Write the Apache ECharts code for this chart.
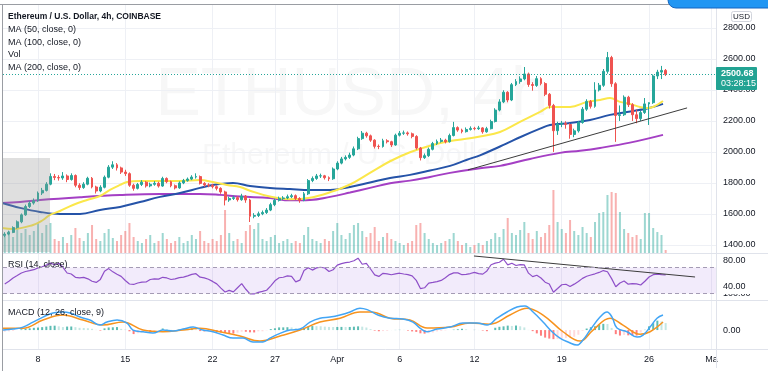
<!DOCTYPE html>
<html><head><meta charset="utf-8">
<script src="https://cdn.jsdelivr.net/npm/echarts@6/dist/echarts.min.js"></script>
<style>html,body{margin:0;padding:0;background:#fff}#c{width:768px;height:371px}</style>
</head><body><div id="c"></div>
<script>
// ---------- DATA (x = day of March; 32 = Apr 1) ----------
const candleStartDay = 5 + 1/3;   // first 8h candle
const candleStepDays = 1/3;
const firstOpen = 1462;
const closes = [1470,1481,1512,1549,1594,1648,1670,1685,1735,1752,
1792,1842,1835,1832,1845,1822,1848,1785,1770,1792,
1830,1774,1748,1772,1837,1902,1917,1897,1870,1860,
1785,1765,1790,1805,1781,1791,1798,1780,1829,1808,
1782,1768,1800,1815,1825,1838,1841,1797,1787,1785,
1776,1765,1742,1690,1700,1705,1692,1715,1690,1585,
1590,1601,1609,1625,1660,1688,1700,1703,1711,1718,
1700,1687,1730,1815,1829,1845,1846,1834,1827,1890,
1928,1955,1965,1980,2020,2086,2121,2104,2076,2036,
2035,2072,2066,2045,2108,2121,2123,2117,2100,2025,
1963,1976,2017,2054,2068,2076,2066,2106,2157,2141,
2131,2145,2152,2150,2155,2130,2150,2196,2270,2323,
2385,2335,2434,2454,2471,2503,2435,2429,2473,2441,
2372,2300,2137,2180,2184,2177,2113,2136,2190,2276,
2326,2294,2400,2430,2520,2609,2440,2235,2240,2353,
2305,2240,2215,2254,2310,2318,2490,2515,2526,2500.68];
const highs = [1482,1492,1520,1558,1603,1660,1682,1700,1745,1768,
1805,1862,1858,1850,1870,1855,1862,1855,1798,1805,
1840,1838,1782,1785,1848,1915,1940,1928,1905,1885,
1868,1795,1800,1818,1812,1802,1812,1808,1840,1836,
1815,1790,1810,1826,1835,1850,1862,1848,1805,1798,
1795,1785,1772,1750,1712,1718,1715,1730,1722,1698,
1605,1615,1622,1638,1672,1698,1712,1715,1725,1730,
1726,1708,1742,1825,1842,1858,1860,1852,1842,1900,
1940,1968,1978,1995,2035,2098,2135,2130,2112,2082,
2048,2085,2082,2072,2118,2135,2138,2132,2125,2108,
2032,1990,2028,2065,2080,2090,2085,2118,2194,2165,
2150,2158,2165,2162,2168,2160,2162,2208,2282,2340,
2398,2392,2445,2470,2488,2548,2512,2450,2490,2482,
2450,2380,2310,2195,2200,2198,2185,2150,2200,2290,
2340,2335,2450,2445,2535,2645,2620,2450,2300,2365,
2362,2315,2275,2265,2348,2320,2500,2530,2555,2535];
const lows = [1450,1462,1476,1505,1540,1588,1638,1660,1678,1722,
1745,1785,1818,1815,1820,1805,1815,1772,1755,1762,
1785,1765,1732,1740,1765,1830,1890,1880,1858,1845,
1775,1750,1758,1780,1770,1772,1782,1770,1775,1798,
1772,1758,1762,1792,1808,1818,1828,1790,1775,1772,
1765,1752,1730,1655,1678,1690,1680,1685,1672,1548,
1572,1580,1592,1600,1618,1650,1680,1690,1695,1702,
1690,1672,1682,1722,1805,1820,1832,1822,1812,1820,
1882,1920,1945,1955,1972,2012,2078,2092,2065,2022,
2018,2028,2055,2032,2040,2100,2110,2105,2088,2015,
1945,1955,1968,2010,2045,2060,2055,2060,2100,2130,
2120,2125,2138,2140,2142,2118,2124,2145,2190,2262,
2315,2320,2328,2425,2440,2462,2420,2395,2420,2430,
2360,2280,2000,2110,2160,2150,2085,2095,2125,2182,
2265,2280,2285,2390,2420,2505,2420,2065,2200,2232,
2290,2200,2185,2200,2245,2174,2310,2470,2470,2490];
const volumes = [18,22,16,25,20,24,18,22,30,20,
28,30,14,12,16,10,18,25,15,12,
20,28,14,12,20,24,15,12,18,22,
30,16,12,10,14,18,10,12,20,14,
10,12,16,10,12,18,14,22,12,10,
14,12,18,43,20,12,14,10,22,28,
24,30,14,12,16,18,10,12,14,10,
12,10,18,26,14,12,10,14,12,22,
30,18,14,20,28,30,22,16,20,26,
12,16,20,14,12,10,8,10,12,28,
30,20,14,10,8,10,12,14,20,12,
8,10,6,8,10,8,12,14,20,16,
24,35,20,18,23,31,20,14,22,16,
20,28,63,31,24,20,33,22,18,26,
20,16,31,40,41,58,61,60,41,24,
20,16,18,14,40,40,25,21,18,3];
const ma50 = [[5.11,1510],[6.0,1503],[7.6,1529],[8.4,1561],[8.96,1594],[9.76,1619],[10.8,1658],[11.93,1690],[12.97,1716],[13.77,1755],[14.58,1787],[15.14,1806],[16.18,1813],[17.78,1813],[19.39,1813],[20.99,1819],[22.03,1806],[23.16,1787],[24.2,1774],[25.0,1750],[26.6,1712],[28.21,1695],[29.81,1705],[31.42,1740],[33.02,1790],[34.62,1865],[36.23,1940],[37.83,1998],[39.44,2040],[41.04,2070],[42.64,2088],[43.44,2100],[45.05,2129],[46.65,2194],[48.26,2258],[49.06,2290],[50.67,2290],[52.03,2323],[53.07,2335],[53.87,2348],[54.67,2323],[55.47,2310],[56.28,2290],[56.84,2284],[57.32,2290],[58.12,2329]];
const ma100 = [[5.11,1671],[6.56,1639],[8.16,1613],[9.76,1600],[11.37,1600],[12.97,1626],[14.58,1645],[16.18,1677],[17.78,1710],[19.39,1735],[20.99,1768],[22.03,1787],[23.64,1800],[25.0,1781],[26.6,1768],[28.21,1761],[29.81,1755],[31.42,1755],[33.02,1774],[34.62,1803],[36.23,1832],[37.83,1852],[39.44,1880],[41.04,1910],[42.4,1950],[43.44,1978],[45.05,2035],[45.85,2065],[46.65,2095],[48.26,2150],[49.06,2174],[50.67,2187],[52.27,2206],[53.87,2239],[55.23,2258],[56.84,2280],[58.12,2310]];
const ma200 = [[5.11,1671],[6.56,1677],[8.16,1690],[11.37,1708],[14.58,1722],[17.78,1729],[20.99,1729],[22.59,1723],[24.2,1712],[26.6,1703],[28.21,1688],[29.81,1690],[31.42,1710],[33.02,1738],[34.62,1768],[36.23,1798],[37.83,1815],[39.44,1839],[41.04,1865],[43.44,1895],[45.05,1910],[47.45,1955],[49.86,1994],[51.47,2008],[53.07,2026],[55.47,2060],[58.12,2110]];
const priceTrend = [[42.48,1884],[60.05,2284]];
const rsi = [44.6,48.8,53.9,57.7,61.6,63.8,65.1,66.6,69.4,71.1,
73.6,76.7,74.2,76.5,70.3,61.5,60,54.9,53.9,54.7,
52.6,48.9,47,51.7,64.2,68.3,63.3,59.5,56.4,50,
44.6,43.9,46.2,47.6,47.7,51.5,52.6,52.1,54.9,53.9,
51.5,52.6,54.4,55.2,57.2,59.5,60.5,55.1,54,51.9,
48.6,44.8,38.2,32.4,34.8,32.5,38.8,45.1,36.5,29.4,
29.3,31.7,33.2,35,41.8,49.6,54.2,55,57,56.3,
47.9,50.5,65.3,69.7,66,69.4,70.4,69.2,63.8,66.5,
73.6,76,77.6,78.4,80.4,84.3,75,76.3,67.7,58.6,
56.3,61,60.2,58.8,60.3,61.2,60,59.1,57.1,50.2,
37.6,38.8,46,47,48.3,50.1,54.3,59.1,61.7,61.7,
58.9,59.3,60.7,62.5,60.5,59.8,64.7,74.2,76.7,78.1,
82.7,74,76.5,73.1,74.4,73.9,61.3,55.9,58,53.9,
47.4,44.5,32,37.7,43.5,44.2,40.7,44.4,48.4,53.3,
56.5,58.5,60.3,62.4,65.3,63.5,52.9,40.3,46.2,49.3,
44.3,45.1,44.9,43.1,48.8,55.4,58.9,59.9,59.1,58.5];
const rsiTrend = [[42.96,87.7],[60.69,55.4]];
const macdLine = [[5.19,0],[6.0,2.7],[6.8,8],[7.6,21.6],[8.4,35],[9.2,46],[10.0,48.6],[10.57,46],[11.37,35],[12.17,27],[12.97,13.5],[13.53,21.6],[14.34,27],[15.14,19],[15.62,0],[16.42,-4.5],[17.22,-8],[18.02,0],[18.83,-2.7],[19.63,2.7],[20.43,8],[21.23,0],[22.03,-4.5],[22.84,-13.5],[23.64,-21.6],[24.44,-21.6],[25.24,-32],[26.04,-32],[26.6,-21.6],[27.41,-9],[28.21,0],[29.01,2.7],[29.81,21.6],[30.61,32],[31.42,35],[32.22,40.5],[33.02,48.6],[33.82,59],[34.4,55],[35.3,40],[36.23,32],[37.27,29.7],[38.07,21.6],[38.63,5.4],[39.2,-4.5],[40.0,2.7],[41.04,8],[42.08,19],[43.2,19],[44.01,13.5],[44.81,32],[45.61,48.6],[46.41,62],[47.05,65],[47.7,48.6],[48.5,21.6],[49.22,-4.5],[49.86,-21.6],[50.5,-32],[51.22,-40.5],[51.7,-27],[52.27,0],[53.07,35],[53.63,48.6],[54.03,35],[54.43,5.4],[55.23,-4.5],[56.04,-19],[56.52,-13.5],[57.08,8],[57.64,32],[58.12,40.5]];
const signalLine = [[5.19,5],[6.8,5],[8.4,27],[10.0,40.5],[11.61,27],[13.21,13.5],[14.82,21.6],[16.42,0],[18.02,-4.5],[19.63,0],[20.99,5],[22.59,-4.5],[24.2,-16],[25.8,-29.7],[27.41,-16],[29.01,0],[30.61,21.6],[32.22,32],[33.82,48.6],[34.62,48.6],[35.19,46],[36.23,32],[37.83,27],[39.2,5.4],[41.04,8],[42.64,19],[44.24,16],[45.85,40.5],[47.21,59],[48.5,40.5],[50.1,-4.5],[51.47,-29.7],[52.51,0],[53.87,32],[54.91,13.5],[56.28,-11],[57.08,-4.5],[58.12,21.6]];
const macdHist = [-4.5,-3.4,-2.3,0,2,3.6,4.7,6,6.8,7.9,
9.4,11.4,11.8,10.1,8.1,9.4,9.6,7.9,6,5.5,
5,3.4,0.5,-1.4,4.6,7,7.5,8.1,3.2,1.4,
-3.3,-10.8,-8.4,-6,-4.9,-5.4,-4.4,0,4.3,2.6,
0.5,0.2,1.5,2.9,3.7,4.7,1.8,-2.7,-3.6,-3.5,
-3.3,-4.5,-6.5,-7.7,-8.7,-9.4,-7,-4.4,-4.6,-6.1,
-6.4,-3.4,-3.3,-0.7,2.6,4.8,7.2,7.3,7.7,7.1,
5,2.7,5.8,9.4,10.8,10.5,10.2,9.2,8.4,8.2,
8.4,8.5,8.4,8.4,9.1,10,9.2,6.9,2.5,-1.5,
-3.2,-2.7,-2.1,0.1,0.4,0.7,0.5,-1.5,-3.6,-4.9,
-8.7,-9.6,-8.4,-6.4,-3.6,-2.2,-0.9,0,1.1,2.2,
3.5,1.9,0,0.6,0.3,-1.3,-3,0,6.2,8.8,
10,12,11.1,12.2,10.2,7.2,0.4,-2.9,-8.9,-15.2,
-20.3,-22.9,-24.4,-24.2,-22.4,-21.6,-20.3,-18.1,-12.6,-2,
4.1,7.8,10.2,14,16.8,16.3,5.8,-11,-14.8,-13.2,
-14.2,-14.5,-14.8,-6.6,0.7,10.1,18.5,25.4,23.3,18.9];
const xTickDays = [8,15,22,27,32,37,43,50,57,62];
const xTickLabels = ['8','15','22','27','Apr','6','12','19','26','Ma'];
const priceTicks = [1400,1600,1800,2000,2200,2400,2600,2800];
const rsiTicks = [40,80];
const rsiLevels = [30,70];
const macdTicks = [0];
const lastPrice = 2500.68;
const countdown = '03:28:15';
const titleText = 'Ethereum / U.S. Dollar, 4h, COINBASE';
const legendTexts = ['MA (50, close, 0)','MA (100, close, 0)','Vol','MA (200, close, 0)'];

// ---------- BUILD ----------
const UP = '#26a69a', DOWN = '#ef5350';
const FONT = '"Liberation Sans", Arial, sans-serif';
const xMin = 5.193, xMax = 62.37;
const dayOf = i => candleStartDay + i * candleStepDays;
const candles = closes.map((c, i) => [dayOf(i), i ? closes[i-1] : firstOpen, c, lows[i], highs[i]]);
const volData = volumes.map((v, i) => {
  const o = candles[i][1], c = candles[i][2];
  return {value: [dayOf(i), v], itemStyle: {color: c >= o ? 'rgba(38,166,154,0.45)' : 'rgba(239,83,80,0.45)'}};
});
const rsiData = rsi.map((v, i) => [dayOf(i), v]);
const histData = macdHist.map((h, i) => {
  const p = i ? macdHist[i-1] : h;
  let col = h >= 0 ? (h >= p ? '#26a69a' : '#b2dfdb') : (h < p ? '#ff5252' : '#ffcdd2');
  return {value: [dayOf(i), h], itemStyle: {color: col, opacity: 0.75}};
});
const labelMap = {};
xTickDays.forEach((d, k) => labelMap[d] = xTickLabels[k]);

function xAx(gi, showLabel) {
  return {type: 'value', gridIndex: gi, min: xMin, max: xMax,
    axisLine: {show: false}, axisTick: {show: false, customValues: xTickDays},
    axisLabel: {show: showLabel, customValues: xTickDays, formatter: v => labelMap[Math.round(v)] || '',
      color: '#131722', fontSize: 9, fontFamily: FONT, margin: 6},
    splitLine: {show: gi !== 1, lineStyle: {color: '#eef0f5', width: 1}}};
}
const yLab = {color: '#131722', fontSize: 9, fontFamily: FONT, margin: 7, formatter: v => v.toFixed(2)};

const option = {
  animation: false,
  backgroundColor: '#ffffff',
  grid: [
    {left: 3, right: 52, top: 5, height: 248},
    {left: 3, right: 52, top: 190, height: 63},
    {left: 3, right: 52, top: 253, height: 47},
    {left: 3, right: 52, top: 300, height: 49}
  ],
  xAxis: [xAx(0, false), xAx(1, false), xAx(2, false), xAx(3, true)],
  yAxis: [
    {type: 'value', gridIndex: 0, position: 'right', min: 1348, max: 2948,
      axisLine: {show: false}, axisTick: {show: false, customValues: priceTicks},
      axisLabel: Object.assign({customValues: priceTicks}, yLab),
      splitLine: {lineStyle: {color: '#eef0f5'}}},
    {type: 'value', gridIndex: 1, min: 0, max: 63, show: false, splitLine: {show: false}},
    {type: 'value', gridIndex: 2, position: 'right', min: 20, max: 92.3, z: 5,
      axisLine: {show: false}, axisTick: {show: false, customValues: rsiTicks},
      axisLabel: Object.assign({customValues: rsiTicks}, yLab), splitLine: {show: false}},
    {type: 'value', gridIndex: 3, position: 'right', min: -51, max: 81,
      axisLine: {show: false}, axisTick: {show: false, customValues: macdTicks},
      axisLabel: Object.assign({customValues: macdTicks}, yLab), splitLine: {show: false}}
  ],
  series: [
    {type: 'bar', xAxisIndex: 1, yAxisIndex: 1, data: volData, barWidth: 2, z: 1, silent: true},
    {type: 'candlestick', xAxisIndex: 0, yAxisIndex: 0, data: candles, barWidth: 2.4, z: 4,
      itemStyle: {color: UP, color0: DOWN, borderColor: UP, borderColor0: DOWN, borderWidth: 1},
      markLine: {silent: true, symbol: ['none','none'], label: {show: false},
        lineStyle: {color: UP, type: [1, 2], width: 1}, data: [{yAxis: lastPrice}]}},
    {type: 'line', xAxisIndex: 0, yAxisIndex: 0, data: ma200, smooth: 0.4, showSymbol: false, z: 3,
      lineStyle: {color: '#a43fc4', width: 2}},
    {type: 'line', xAxisIndex: 0, yAxisIndex: 0, data: ma100, smooth: 0.4, showSymbol: false, z: 3,
      lineStyle: {color: '#2553a8', width: 2}},
    {type: 'line', xAxisIndex: 0, yAxisIndex: 0, data: ma50, smooth: 0.4, showSymbol: false, z: 3,
      lineStyle: {color: '#fbe74a', width: 2}},
    {type: 'line', xAxisIndex: 0, yAxisIndex: 0, data: priceTrend, showSymbol: false, z: 5,
      lineStyle: {color: '#3c3c3c', width: 1}},
    {type: 'line', xAxisIndex: 2, yAxisIndex: 2, data: rsiData, showSymbol: false, z: 3,
      lineStyle: {color: '#8e4fc8', width: 1.2},
      markArea: {silent: true, itemStyle: {color: 'rgba(149,90,220,0.12)'}, data: [[{yAxis: rsiLevels[0]}, {yAxis: rsiLevels[1]}]]},
      markLine: {silent: true, symbol: ['none','none'], label: {show: false},
        lineStyle: {color: '#a49bb4', type: [4, 3], width: 1}, data: [{yAxis: rsiLevels[0]}, {yAxis: rsiLevels[1]}]}},
    {type: 'line', xAxisIndex: 2, yAxisIndex: 2, data: rsiTrend, showSymbol: false, z: 4,
      lineStyle: {color: '#3c3c3c', width: 1}},
    {type: 'bar', xAxisIndex: 3, yAxisIndex: 3, data: histData, barWidth: 2, z: 2},
    {type: 'line', xAxisIndex: 3, yAxisIndex: 3, data: signalLine, smooth: 0.4, showSymbol: false, z: 3,
      lineStyle: {color: '#f7931e', width: 1.5}},
    {type: 'line', xAxisIndex: 3, yAxisIndex: 3, data: macdLine, smooth: 0.4, showSymbol: false, z: 4,
      lineStyle: {color: '#42a5f5', width: 1.5}}
  ],
  graphic: [
    // watermark
    {type: 'text', x: 352, y: 96, z: -5, silent: true, style: {text: 'ETHUSD, 4h', fill: 'rgba(19,23,34,0.035)',
      font: '68px ' + FONT, textAlign: 'center', textVerticalAlign: 'middle', align: 'center', verticalAlign: 'middle'}},
    {type: 'text', x: 352, y: 156, z: -5, silent: true, style: {text: 'Ethereum / U.S. Dollar', fill: 'rgba(19,23,34,0.035)',
      font: '30px ' + FONT, textAlign: 'center', textVerticalAlign: 'middle', align: 'center', verticalAlign: 'middle'}},
    // gray selection box
    {type: 'rect', z: 20, silent: true, shape: {x: 3, y: 158, width: 47, height: 94}, style: {fill: 'rgba(150,150,150,0.3)'}},
    // legend texts
    {type: 'text', x: 8, y: 17, z: 30, style: {text: titleText, fill: '#131722', font: 'bold 8.5px ' + FONT, textVerticalAlign: 'middle', verticalAlign: 'middle'}},
    {type: 'text', x: 8, y: 30, z: 30, style: {text: legendTexts[0], fill: '#131722', font: '9px ' + FONT, textVerticalAlign: 'middle', verticalAlign: 'middle'}},
    {type: 'text', x: 8, y: 42.5, z: 30, style: {text: legendTexts[1], fill: '#131722', font: '9px ' + FONT, textVerticalAlign: 'middle', verticalAlign: 'middle'}},
    {type: 'text', x: 8, y: 55, z: 30, style: {text: legendTexts[2], fill: '#131722', font: '9px ' + FONT, textVerticalAlign: 'middle', verticalAlign: 'middle'}},
    {type: 'text', x: 8, y: 67.5, z: 30, style: {text: legendTexts[3], fill: '#131722', font: '9px ' + FONT, textVerticalAlign: 'middle', verticalAlign: 'middle'}},
    {type: 'text', x: 8, y: 265, z: 30, style: {text: 'RSI (14, close)', fill: '#131722', font: '9px ' + FONT, textVerticalAlign: 'middle', verticalAlign: 'middle'}},
    {type: 'text', x: 8, y: 313, z: 30, style: {text: 'MACD (12, 26, close, 9)', fill: '#131722', font: '9px ' + FONT, textVerticalAlign: 'middle', verticalAlign: 'middle'}},
    // MACD 100.00 label partly hidden
    {type: 'text', x: 723, y: 294, z: 1, style: {text: (100).toFixed(2), fill: '#131722', font: '9px ' + FONT, textVerticalAlign: 'middle', verticalAlign: 'middle'}},
    {type: 'rect', z: 2, silent: true, shape: {x: 717, y: 280, width: 51, height: 14}, style: {fill: '#ffffff'}},
    // pane separators & frame
    {type: 'line', z: 25, shape: {x1: 3, y1: 253.5, x2: 768, y2: 253.5}, style: {stroke: '#e0e3eb', lineWidth: 1}},
    {type: 'line', z: 25, shape: {x1: 3, y1: 300.5, x2: 768, y2: 300.5}, style: {stroke: '#e0e3eb', lineWidth: 1}},
    {type: 'line', z: 25, shape: {x1: 3, y1: 349.5, x2: 768, y2: 349.5}, style: {stroke: '#e0e3eb', lineWidth: 1}},
    {type: 'line', z: 25, shape: {x1: 716.5, y1: 4, x2: 716.5, y2: 368}, style: {stroke: '#e0e3eb', lineWidth: 1}},
    {type: 'line', z: 25, shape: {x1: 0, y1: 4.5, x2: 768, y2: 4.5}, style: {stroke: '#9a9da3', lineWidth: 1}},
    {type: 'line', z: 25, shape: {x1: 2.5, y1: 4, x2: 2.5, y2: 371}, style: {stroke: '#9a9da3', lineWidth: 1}},
    // USD box
    {type: 'rect', z: 26, shape: {x: 731.5, y: 11.5, width: 20, height: 10, r: 2}, style: {fill: '#fff', stroke: '#d1d4dc', lineWidth: 1}},
    {type: 'text', x: 741.5, y: 16.5, z: 27, style: {text: 'USD', fill: '#131722', font: '8px ' + FONT, textAlign: 'center', textVerticalAlign: 'middle', align: 'center', verticalAlign: 'middle'}},
    // last price label
    {type: 'rect', z: 26, shape: {x: 716, y: 67, width: 41, height: 23, r: 1}, style: {fill: '#22a393'}},
    {type: 'text', x: 721, y: 73.5, z: 27, style: {text: lastPrice.toFixed(2), fill: '#ffffff', font: 'bold 9px ' + FONT, textVerticalAlign: 'middle', verticalAlign: 'middle'}},
    {type: 'text', x: 721, y: 84, z: 27, style: {text: countdown, fill: '#ffffff', font: '9px ' + FONT, textVerticalAlign: 'middle', verticalAlign: 'middle'}},
    // blue button at top
    {type: 'rect', z: 40, shape: {x: 668, y: -12, width: 110, height: 20, r: 8}, style: {fill: '#2196f3', stroke: '#1565c0', lineWidth: 1}}
  ]
};
const chart = echarts.init(document.getElementById('c'), null, {width: 768, height: 371});
chart.setOption(option);
</script></body></html>
